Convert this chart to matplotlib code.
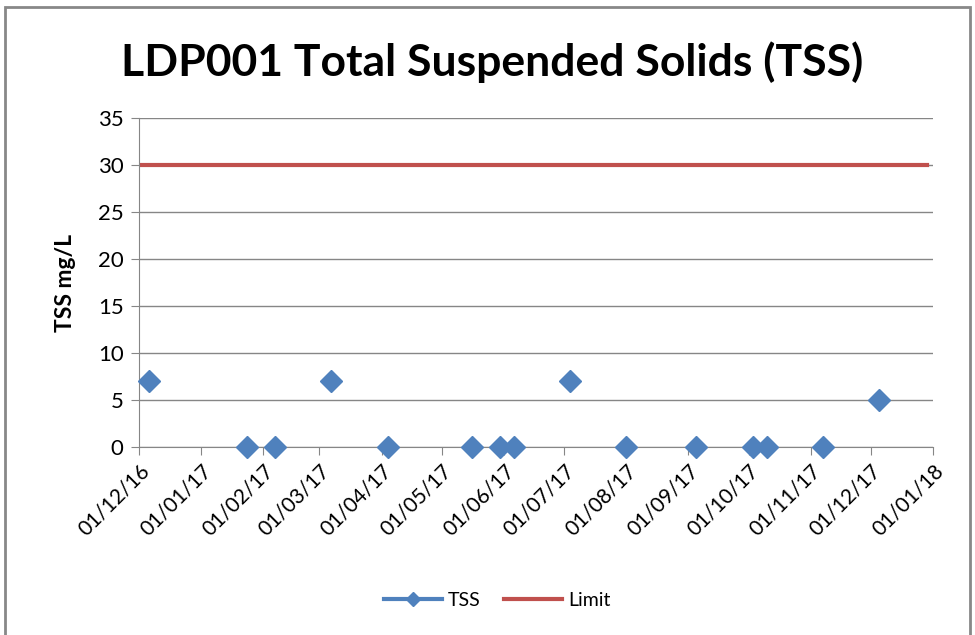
import matplotlib
matplotlib.use('Agg')
import matplotlib.pyplot as plt
import matplotlib.dates as mdates
from matplotlib.patches import Rectangle
from matplotlib.lines import Line2D
import pandas as pd

# TSS samples
tss_dates = ['2016-12-06', '2017-01-24', '2017-02-07', '2017-03-07', '2017-04-04',
             '2017-05-16', '2017-05-30', '2017-06-06', '2017-07-04', '2017-08-01',
             '2017-09-05', '2017-10-03', '2017-10-10', '2017-11-07', '2017-12-05']
tss_values = [7, 0, 0, 7, 0, 0, 0, 0, 7, 0, 0, 0, 0, 0, 5]

limit_dates = ['2016-12-01', '2017-12-29']
limit_values = [30, 30]

title = 'LDP001 Total Suspended Solids (TSS)'
ylabel = 'TSS mg/L'

BLUE = '#4F81BD'
RED = '#C0504D'
GRID = '#868686'

plt.rcParams['font.family'] = ['Lato', 'DejaVu Sans']

fig = plt.figure(figsize=(9.75, 6.35), dpi=100)
ax = fig.add_axes([139/975, 1 - 447/635, (933 - 139)/975, (447 - 118)/635])

ax.plot(pd.to_datetime(limit_dates), limit_values, color=RED, lw=3, label='Limit', zorder=2)
ax.plot(pd.to_datetime(tss_dates), tss_values, ls='none', marker='D', ms=11,
        color=BLUE, mec=BLUE, label='TSS', zorder=3, clip_on=False)

ax.set_xlim(pd.Timestamp('2016-12-01'), pd.Timestamp('2018-01-01'))
ax.set_ylim(0, 35)
ax.set_yticks(range(0, 36, 5))
ax.xaxis.set_major_locator(mdates.MonthLocator())
ax.xaxis.set_major_formatter(mdates.DateFormatter('%d/%m/%y'))

ax.yaxis.grid(True, color=GRID, lw=1)
ax.set_axisbelow(True)
for s in ['top', 'right']:
    ax.spines[s].set_visible(False)
for s in ['left', 'bottom']:
    ax.spines[s].set_color(GRID)
ax.tick_params(axis='both', colors=GRID, labelcolor='black', length=6)
ax.tick_params(axis='y', labelsize=16, pad=5)
ax.tick_params(axis='x', labelsize=15, pad=4)
plt.setp(ax.get_xticklabels(), rotation=45, ha='right', rotation_mode='anchor')

ax.set_ylabel(ylabel, fontsize=16.5, fontweight='bold', labelpad=16)
fig.text(0.505, 1 - 62/635, title, ha='center', va='center', fontsize=32, fontweight='bold')

handles = [Line2D([], [], color=BLUE, lw=3, marker='D', ms=7),
           Line2D([], [], color=RED, lw=3)]
fig.legend(handles, ['TSS', 'Limit'], loc='center', bbox_to_anchor=(0.51, 1 - 600/635),
           ncol=2, frameon=False, fontsize=14, handlelength=3, columnspacing=1.2, handletextpad=0.3)

fig.patches.append(Rectangle((5/975, -0.01), 965/975, 1 - 7/635 + 0.01, transform=fig.transFigure,
                             fill=False, ec='#888888', lw=2))

fig.savefig('out.png', dpi=100)
